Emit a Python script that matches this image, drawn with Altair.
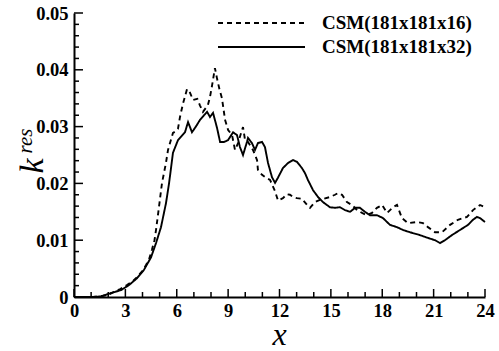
import altair as alt
import pandas as pd

S16 = "CSM(181x181x16)"
S32 = "CSM(181x181x32)"

x_dash = [0, 1, 1.5, 2.0, 2.34, 2.7, 3.09, 3.4, 3.68, 4.0,
          4.20, 4.4, 4.55, 4.7, 4.79, 4.96, 5.14, 5.37, 5.49, 5.78,
          5.95, 6.07, 6.19, 6.36, 6.6, 6.77, 6.95, 7.2, 7.36, 7.53,
          7.82, 7.94, 8.06, 8.23, 8.35, 8.5, 8.64, 8.82, 9.0, 9.23,
          9.40, 9.58, 9.81, 9.87, 9.99, 10.16, 10.45, 10.69, 10.74, 10.98,
          11.2, 11.45, 11.74, 11.91, 12.20, 12.44, 12.61, 12.79, 13.02, 13.31,
          13.61, 13.78, 14.07, 14.36, 14.95, 15.24, 15.42, 15.65, 15.94, 16.23,
          16.53, 16.82, 17.11, 17.40, 17.69, 17.99, 18.28, 18.63, 18.86, 19.15,
          19.50, 20.03, 20.38, 20.67, 21.08, 21.49, 21.96, 22.42, 22.95, 23.30,
          23.71, 24.0]
y_dash = [0, 0, 0.0001, 0.0004, 0.0009, 0.0014, 0.0021, 0.0027, 0.0035, 0.0046,
          0.0056, 0.0068, 0.0083, 0.0100, 0.0118, 0.0158, 0.0201, 0.0236, 0.0259, 0.0289,
          0.0292, 0.0296, 0.0317, 0.0340, 0.0366, 0.0360, 0.0347, 0.0349, 0.0337, 0.0326,
          0.0338, 0.0352, 0.0372, 0.0403, 0.0385, 0.0365, 0.0350, 0.0312, 0.0294, 0.0285,
          0.0259, 0.0271, 0.0294, 0.0299, 0.0276, 0.0273, 0.0259, 0.0241, 0.0224, 0.0215,
          0.0210, 0.0206, 0.0186, 0.0170, 0.0174, 0.0181, 0.0180, 0.0176, 0.0174, 0.0173,
          0.0162, 0.0157, 0.0167, 0.0171, 0.0176, 0.0180, 0.0183, 0.0180, 0.0167, 0.0162,
          0.0153, 0.0148, 0.0144, 0.0148, 0.0157, 0.0162, 0.0148, 0.0158, 0.0162, 0.0139,
          0.0130, 0.0132, 0.0130, 0.0123, 0.0114, 0.0114, 0.0127, 0.0136, 0.0141, 0.0153,
          0.0162, 0.0158]

x_solid = [0, 1.0, 1.58, 2.16, 2.74, 3.21, 3.68, 4.09, 4.50, 4.79,
           5.08, 5.37, 5.55, 5.78, 6.07, 6.48, 6.66, 6.89, 7.18, 7.36,
           7.59, 7.77, 7.94, 8.12, 8.35, 8.53, 8.76, 8.99, 9.29, 9.52,
           9.69, 9.87, 10.10, 10.16, 10.39, 10.57, 10.74, 10.98, 11.15, 11.33,
           11.56, 11.74, 11.91, 12.20, 12.50, 12.79, 13.02, 13.31, 13.49, 13.66,
           13.96, 14.25, 14.54, 14.95, 15.24, 15.53, 15.82, 16.12, 16.41, 16.70,
           16.99, 17.28, 17.69, 18.04, 18.45, 18.86, 19.21, 19.62, 20.20, 20.67,
           21.08, 21.37, 21.66, 22.07, 22.54, 23.01, 23.30, 23.53, 23.71, 24.0]
y_solid = [0, 0, 0.0001, 0.0007, 0.0012, 0.0021, 0.0033, 0.0048, 0.0070, 0.0095,
           0.0123, 0.0165, 0.0200, 0.0254, 0.0276, 0.0290, 0.0308, 0.0290, 0.0303, 0.0312,
           0.0320, 0.0326, 0.0317, 0.0324, 0.0298, 0.0273, 0.0273, 0.0276, 0.0290, 0.0285,
           0.0264, 0.0250, 0.0273, 0.0280, 0.0271, 0.0259, 0.0271, 0.0273, 0.0264, 0.0236,
           0.0211, 0.0201, 0.0210, 0.0227, 0.0236, 0.0241, 0.0238, 0.0227, 0.0218, 0.0206,
           0.0188, 0.0176, 0.0167, 0.0158, 0.0157, 0.0158, 0.0153, 0.0150, 0.0157, 0.0157,
           0.0150, 0.0144, 0.0144, 0.0139, 0.0127, 0.0123, 0.0118, 0.0114, 0.0109, 0.0104,
           0.0100, 0.0095, 0.0100, 0.0109, 0.0118, 0.0127, 0.0136, 0.0141, 0.0139, 0.0132]

x_major = [0, 3, 6, 9, 12, 15, 18, 21, 24]
x_minor = [1, 2, 4, 5, 7, 8, 10, 11, 13, 14, 16, 17, 19, 20, 22, 23]
y_major = [0, 0.01, 0.02, 0.03, 0.04, 0.05]
y_minor = [0.002, 0.004, 0.006, 0.008, 0.012, 0.014, 0.016, 0.018,
           0.022, 0.024, 0.026, 0.028, 0.032, 0.034, 0.036, 0.038,
           0.042, 0.044, 0.046, 0.048]

df = pd.concat([
    pd.DataFrame({"x": x_dash, "y": y_dash, "series": S16}),
    pd.DataFrame({"x": x_solid, "y": y_solid, "series": S32}),
])

W, H = 411, 284
FONT = "Liberation Serif"
LBL = 18.5

xscale = alt.Scale(domain=[0, 24], nice=False, zero=False)
yscale = alt.Scale(domain=[0, 0.05], nice=False, zero=False)

xaxis = alt.Axis(values=x_major, format="d", title=None, ticks=False, tickSize=0,
                 grid=False, domainColor="black", domainWidth=2,
                 labelFont=FONT, labelFontWeight="bold", labelFontSize=LBL,
                 labelColor="black", labelPadding=4, labelFlush=False,
                 labelOverlap=False, labelBound=False)
yaxis = alt.Axis(values=y_major, title=None, ticks=False, tickSize=0,
                 grid=False, domainColor="black", domainWidth=2,
                 labelExpr="datum.value == 0 ? '0' : format(datum.value, '.2f')",
                 labelFont=FONT, labelFontWeight="bold", labelFontSize=LBL,
                 labelColor="black", labelPadding=6, labelFlush=False,
                 labelOverlap=False, labelBound=False)

lines = alt.Chart(df).mark_line(color="black", strokeWidth=1.9).encode(
    x=alt.X("x:Q", scale=xscale, axis=xaxis),
    y=alt.Y("y:Q", scale=yscale, axis=yaxis),
    strokeDash=alt.StrokeDash("series:N",
                              scale=alt.Scale(domain=[S16, S32], range=[[5, 4], [1, 0]]),
                              legend=None),
    order=alt.Order("x:Q"),
)

def xticks(vals, length):
    return alt.Chart(pd.DataFrame({"x": vals})).mark_rule(color="black", strokeWidth=1.5).encode(
        x=alt.X("x:Q", scale=xscale, axis=xaxis),
        y=alt.value(H), y2=alt.value(H - length))

def yticks(vals, length):
    return alt.Chart(pd.DataFrame({"y": vals})).mark_rule(color="black", strokeWidth=1.5).encode(
        y=alt.Y("y:Q", scale=yscale, axis=yaxis),
        x=alt.value(0), x2=alt.value(length))

base = alt.Chart(pd.DataFrame({"a": [0]}))

leg_dash = base.mark_rule(color="black", strokeWidth=1.9, strokeDash=[5, 4]).encode(
    x=alt.value(144), x2=alt.value(231), y=alt.value(10))
leg_solid = base.mark_rule(color="black", strokeWidth=1.9).encode(
    x=alt.value(144), x2=alt.value(231), y=alt.value(34))
leg_t1 = base.mark_text(text=S16, font=FONT, fontWeight="bold", fontSize=19,
                        align="left", baseline="middle", color="black").encode(
    x=alt.value(248), y=alt.value(10))
leg_t2 = base.mark_text(text=S32, font=FONT, fontWeight="bold", fontSize=19,
                        align="left", baseline="middle", color="black").encode(
    x=alt.value(248), y=alt.value(34))

xtitle = base.mark_text(text="x", font=FONT, fontStyle="italic", fontSize=32,
                        align="center", baseline="alphabetic", color="black").encode(
    x=alt.value(205.5), y=alt.value(332))
ytitle_k = base.mark_text(text="k", font=FONT, fontStyle="italic", fontSize=34,
                          angle=270, align="center", baseline="alphabetic", color="black").encode(
    x=alt.value(-31), y=alt.value(153))
ytitle_res = base.mark_text(text="res", font=FONT, fontStyle="italic", fontSize=21,
                            angle=270, align="center", baseline="alphabetic", color="black").encode(
    x=alt.value(-42), y=alt.value(128))

chart = alt.layer(
    lines,
    xticks(x_major, 8), xticks(x_minor, 5),
    yticks(y_major, 9), yticks(y_minor, 5),
    leg_dash, leg_solid, leg_t1, leg_t2,
    xtitle, ytitle_k, ytitle_res,
).properties(
    width=W, height=H,
    padding={"left": 74, "top": 13, "right": 14, "bottom": 54},
    autosize=alt.AutoSizeParams(type="none"),
).configure(font=FONT).configure_view(stroke=None)

chart.save("out.html", embed_options={"renderer": "svg", "actions": False})
